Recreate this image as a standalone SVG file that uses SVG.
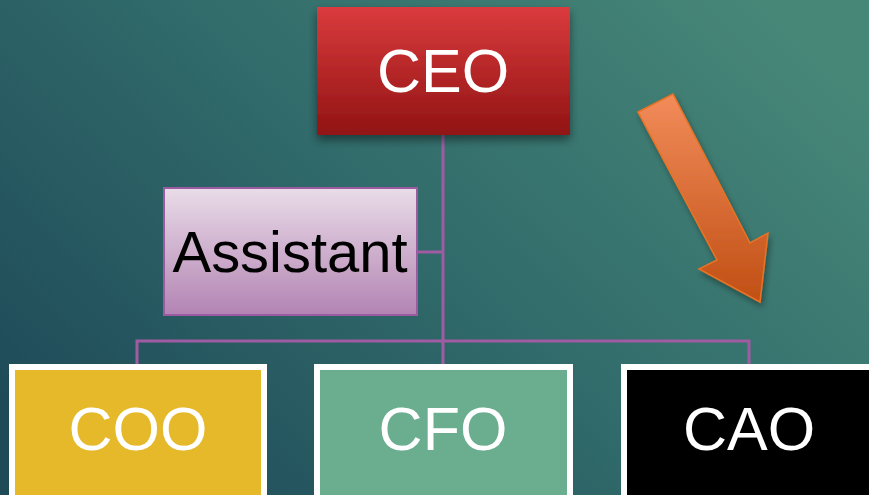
<svg xmlns="http://www.w3.org/2000/svg" width="869" height="495" viewBox="0 0 869 495">
  <defs>
    <linearGradient id="bg" x1="0" y1="0.8" x2="1" y2="0.2">
      <stop offset="0" stop-color="#1f4b59"/>
      <stop offset="0.5" stop-color="#316b6b"/>
      <stop offset="1" stop-color="#478778"/>
    </linearGradient>
    <linearGradient id="ceoG" x1="0" y1="0" x2="0" y2="1">
      <stop offset="0" stop-color="#da3b3d"/>
      <stop offset="1" stop-color="#911313"/>
    </linearGradient>
    <linearGradient id="asG" x1="0" y1="0" x2="0" y2="1">
      <stop offset="0" stop-color="#e9dce8"/>
      <stop offset="1" stop-color="#b384b3"/>
    </linearGradient>
    <linearGradient id="arG" x1="0" y1="0" x2="0" y2="1">
      <stop offset="0" stop-color="#f28c5a"/>
      <stop offset="1" stop-color="#c04f14"/>
    </linearGradient>
    <filter id="sh" x="-20%" y="-20%" width="140%" height="150%">
      <feDropShadow dx="0" dy="5" stdDeviation="5" flood-color="#000" flood-opacity="0.45"/>
    </filter>
    <filter id="sh2" x="-20%" y="-20%" width="140%" height="150%">
      <feDropShadow dx="2" dy="4" stdDeviation="3" flood-color="#000" flood-opacity="0.35"/>
    </filter>
  </defs>
  <style>
    .lbl { font-family: "Liberation Sans", Arial, sans-serif; text-anchor: middle; }
    .w { fill: #ffffff; font-size: 61px; }
    .conn { stroke: #a05ca2; stroke-width: 3; fill: none; }
    .box { stroke: #ffffff; stroke-width: 6; }
  </style>
  <rect x="0" y="0" width="869" height="495" fill="url(#bg)"/>

  <g id="connectors">
    <path class="conn" d="M443,135 V364"/>
    <path class="conn" d="M417,252 H443"/>
    <path class="conn" d="M137,364 V341 H749 V364"/>
  </g>

  <g id="ceo">
    <rect x="317" y="7" width="253" height="128" fill="url(#ceoG)" filter="url(#sh)"/>
    <text class="lbl w" x="443" y="92">CEO</text>
  </g>

  <g id="assistant">
    <rect x="164" y="188" width="253" height="127" fill="url(#asG)" stroke="#9b5ba0" stroke-width="2"/>
    <text class="lbl" x="290" y="272" font-size="58" fill="#000" textLength="235" lengthAdjust="spacingAndGlyphs">Assistant</text>
  </g>

  <g id="arrow">
    <polygon points="638,112 673,94 750,243 768,233 760,302 699,269 717,260" fill="url(#arG)" stroke="#ea7222" stroke-width="1.5" stroke-linejoin="miter" filter="url(#sh2)"/>
  </g>

  <g id="coo">
    <rect class="box" x="12" y="367" width="252" height="140" fill="#e6b92b"/>
    <text class="lbl w" x="138" y="450">COO</text>
  </g>

  <g id="cfo">
    <rect class="box" x="317" y="367" width="253" height="140" fill="#6aad8f"/>
    <text class="lbl w" x="443" y="450">CFO</text>
  </g>

  <g id="cao">
    <rect class="box" x="624" y="367" width="260" height="140" fill="#000000"/>
    <text class="lbl w" x="749" y="450">CAO</text>
  </g>
</svg>
